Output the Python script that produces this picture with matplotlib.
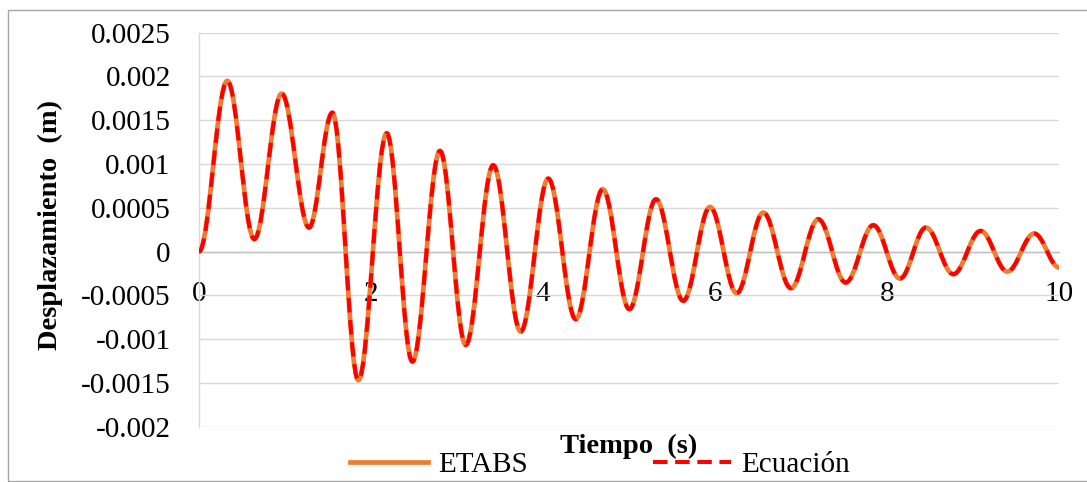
import matplotlib
matplotlib.use("Agg")
import matplotlib.pyplot as plt
from matplotlib.path import Path
from matplotlib.patches import PathPatch, Rectangle
from matplotlib.lines import Line2D

# Turning points of the displacement history (time in s, displacement in m)
tiempo = [0.0, 0.329, 0.643, 0.961, 1.279, 1.550, 1.852, 2.182, 2.480, 2.801,
          3.100, 3.420, 3.739, 4.060, 4.379, 4.693, 5.002, 5.312, 5.629, 5.940,
          6.250, 6.559, 6.881, 7.199, 7.517, 7.838, 8.148, 8.450, 8.768, 9.086,
          9.396, 9.709, 10.0]
etabs = [0.0, 0.00195, 0.000142, 0.001805, 0.000274, 0.001587, -0.001469,
         0.001352, -0.001256, 0.00115, -0.001066, 0.000987, -0.000914, 0.000834,
         -0.000772, 0.000713, -0.000658, 0.000598, -0.000563, 0.00051, -0.000475,
         0.000445, -0.000418, 0.00037, -0.000354, 0.000302, -0.000308, 0.000274,
         -0.000258, 0.000236, -0.000228, 0.000206, -0.000183]
ecuacion = [0.0, 0.00195, 0.000142, 0.001805, 0.000274, 0.001587, -0.001469,
            0.001352, -0.001256, 0.00115, -0.001066, 0.000987, -0.000914, 0.000834,
            -0.000772, 0.000713, -0.000658, 0.000598, -0.000563, 0.00051, -0.000475,
            0.000445, -0.000418, 0.00037, -0.000354, 0.000302, -0.000308, 0.000274,
            -0.000258, 0.000236, -0.000228, 0.000206, -0.000183]

series_labels = ["ETABS", "Ecuación"]
x_ticks = [0, 2, 4, 6, 8, 10]
y_ticks = [-0.002, -0.0015, -0.001, -0.0005, 0.0, 0.0005, 0.001, 0.0015, 0.002, 0.0025]
y_tick_labels = ["-0.002", "-0.0015", "-0.001", "-0.0005", "0",
                 "0.0005", "0.001", "0.0015", "0.002", "0.0025"]

ORANGE = "#ED7D31"
RED = "#FF0000"
GRID = "#D9D9D9"

plt.rcParams["font.family"] = ["Liberation Serif", "DejaVu Serif"]
FS = 21
FS_TITLE = 20.5


def smooth_path(t, y, k=0.364):
    """Smoothed line through the points, flat tangents at each point."""
    verts = [(t[0], y[0])]
    codes = [Path.MOVETO]
    for i in range(len(t) - 1):
        dt = t[i + 1] - t[i]
        verts += [(t[i] + k * dt, y[i]), (t[i + 1] - k * dt, y[i + 1]), (t[i + 1], y[i + 1])]
        codes += [Path.CURVE4] * 3
    return Path(verts, codes)


fig = plt.figure(figsize=(10.87, 4.82), dpi=100)
ax = fig.add_axes([199 / 1087, 1 - 426.7 / 482, (1059.3 - 199) / 1087, (426.7 - 32.7) / 482])

ax.set_xlim(0, 10)
ax.set_ylim(-0.002, 0.0025)

ax.add_patch(PathPatch(smooth_path(tiempo, etabs), fill=False, edgecolor=ORANGE,
                       linewidth=3.4, capstyle="butt", joinstyle="round", zorder=3))
ax.add_patch(PathPatch(smooth_path(tiempo, ecuacion), fill=False, edgecolor=RED,
                       linewidth=2.9, linestyle=(0, (3.6, 1.9)), capstyle="butt",
                       joinstyle="round", zorder=4))

ax.set_yticks(y_ticks)
ax.set_yticklabels(y_tick_labels)
ax.set_xticks(x_ticks)
ax.set_xticklabels([str(v) for v in x_ticks])
ax.tick_params(axis="both", length=0, labelsize=FS)
ax.tick_params(axis="y", pad=20.4)
ax.tick_params(axis="x", pad=21)

ax.grid(axis="y", color=GRID, linewidth=1.0)
ax.grid(axis="x", visible=False)
ax.set_axisbelow(True)

for side in ("top", "right"):
    ax.spines[side].set_visible(False)
ax.spines["left"].set_color(GRID)
ax.spines["left"].set_linewidth(1.0)
ax.spines["bottom"].set_position(("data", 0))
ax.spines["bottom"].set_color("#BFBFBF")
ax.spines["bottom"].set_linewidth(1.0)

fig.text(50 / 1087, 1 - 225 / 482, "Desplazamiento  (m)", rotation=90,
         ha="center", va="center", fontsize=FS_TITLE, fontweight="bold")
fig.text(629 / 1087, 1 - 453 / 482, "Tiempo  (s)", ha="center", va="baseline",
         fontsize=FS_TITLE, fontweight="bold")

handles = [Line2D([], [], color=ORANGE, linewidth=3.4),
           Line2D([], [], color=RED, linewidth=2.9, linestyle=(0, (3.6, 1.9)))]
fig.legend(handles, series_labels, loc="center", bbox_to_anchor=(600 / 1087, 1 - 464.5 / 482),
           ncol=2, frameon=False, fontsize=FS, handlelength=2.67, handletextpad=0.34,
           columnspacing=4.3, borderpad=0, borderaxespad=0)

fig.patches.append(Rectangle((7.5 / 1087, 1.0 / 482), 1.2, 1 - 11 / 482,
                             transform=fig.transFigure, fill=False,
                             edgecolor="#A6A6A6", linewidth=1.0))

fig.savefig("out.png", dpi=100)
